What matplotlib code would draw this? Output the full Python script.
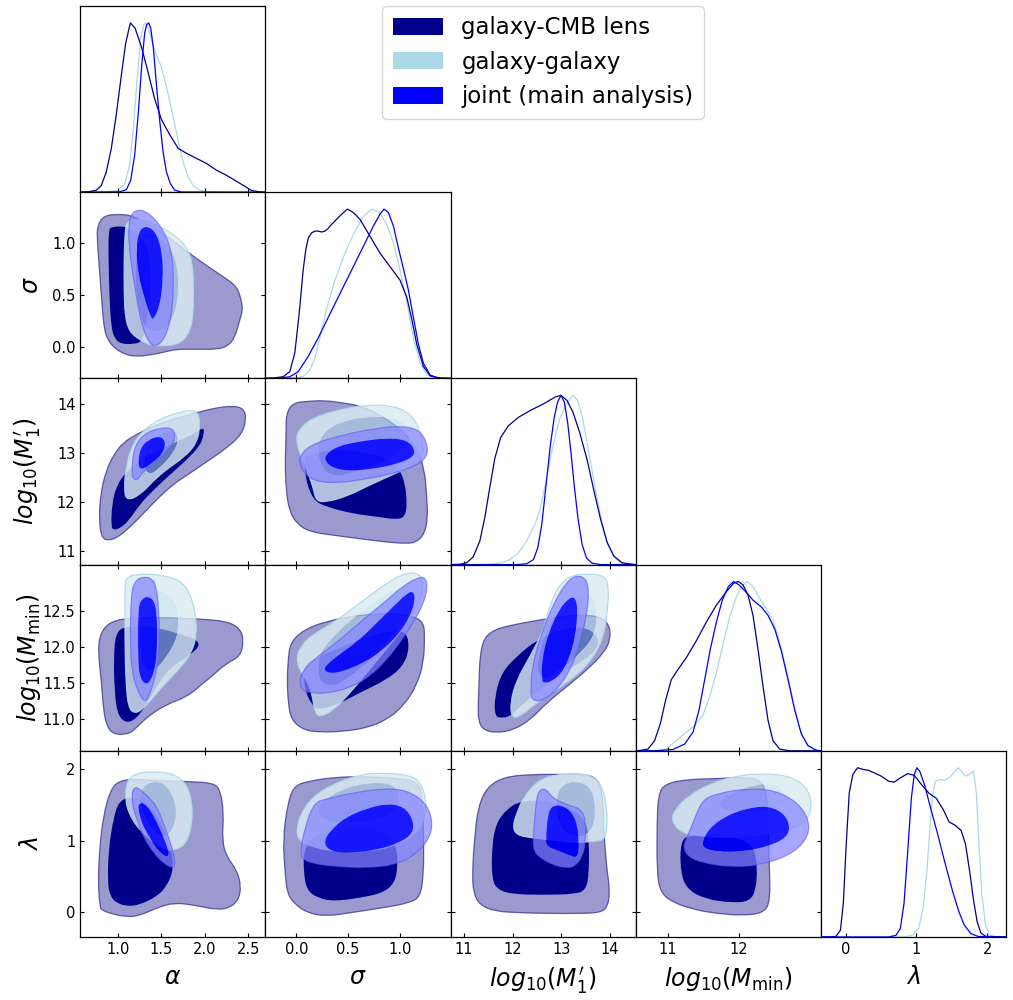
import numpy as np
import matplotlib
matplotlib.use("Agg")
import matplotlib.pyplot as plt
from matplotlib.path import Path
from matplotlib.patches import PathPatch, Patch

# ---------------- parameters / axes ----------------
param_keys = ["alpha", "sigma", "M1", "Mmin", "lam"]
axis_labels = [r"$\alpha$", r"$\sigma$", r"$log_{10}(M^{\prime}_1)$",
               r"$log_{10}(M_{\rm min})$", r"$\lambda$"]
ranges = [(0.565, 2.70), (-0.30, 1.49), (10.72, 14.53), (10.55, 13.15), (-0.35, 2.26)]
x_ticks = [[1.0, 1.5, 2.0, 2.5], [0.0, 0.5, 1.0], [11, 12, 13, 14], [11, 12], [0, 1, 2]]
x_tick_labels = [["1.0", "1.5", "2.0", "2.5"], ["0.0", "0.5", "1.0"],
                 ["11", "12", "13", "14"], ["11", "12"], ["0", "1", "2"]]
y_ticks = [[], [0.0, 0.5, 1.0], [11, 12, 13, 14], [11.0, 11.5, 12.0, 12.5], [0, 1, 2]]
y_tick_labels = [[], ["0.0", "0.5", "1.0"], ["11", "12", "13", "14"],
                 ["11.0", "11.5", "12.0", "12.5"], ["0", "1", "2"]]

series_names = ["galaxy-CMB lens", "galaxy-galaxy", "joint (main analysis)"]
series_keys = ["cmb", "gg", "joint"]
line_colors = ["#00008B", "#ADD8E6", "#0000FF"]

# ---------------- 1D marginals (normalised heights) ----------------
cmb_alpha_x = [0.565, 0.673, 0.750, 0.807, 0.865, 0.923, 0.980, 1.038, 1.088, 1.142, 1.196, 1.269, 1.346, 1.423, 1.500, 1.596, 1.692, 1.788, 1.904, 2.019, 2.135, 2.250, 2.365, 2.462, 2.539, 2.635, 2.70]
cmb_alpha_h = [0, 0.004, 0.012, 0.04, 0.12, 0.26, 0.46, 0.69, 0.88, 1.0, 0.97, 0.86, 0.71, 0.55, 0.43, 0.34, 0.26, 0.23, 0.20, 0.17, 0.13, 0.10, 0.065, 0.035, 0.01, 0.002, 0]
gg_alpha_x = [0.565, 0.865, 0.999, 1.077, 1.134, 1.181, 1.219, 1.257, 1.296, 1.319, 1.350, 1.396, 1.450, 1.500, 1.550, 1.596, 1.646, 1.696, 1.750, 1.808, 1.865, 1.942, 2.038, 2.23, 2.70]
gg_alpha_h = [0, 0.002, 0.01, 0.05, 0.16, 0.40, 0.66, 0.90, 0.99, 1.0, 0.97, 0.88, 0.80, 0.74, 0.64, 0.54, 0.42, 0.30, 0.18, 0.09, 0.04, 0.012, 0.002, 0, 0]
joint_alpha_x = [0.565, 1.019, 1.096, 1.146, 1.192, 1.234, 1.273, 1.307, 1.330, 1.353, 1.377, 1.408, 1.442, 1.481, 1.519, 1.558, 1.604, 1.654, 1.731, 2.70]
joint_alpha_h = [0, 0.002, 0.015, 0.07, 0.22, 0.47, 0.75, 0.94, 0.99, 1.0, 0.97, 0.85, 0.64, 0.42, 0.24, 0.12, 0.05, 0.012, 0.001, 0]

cmb_sigma_x = [-0.30, -0.226, -0.129, -0.064, -0.016, 0.026, 0.065, 0.090, 0.115, 0.146, 0.180, 0.211, 0.245, 0.275, 0.305, 0.340, 0.420, 0.492, 0.550, 0.614, 0.711, 0.808, 0.905, 1.002, 1.067, 1.115, 1.164, 1.228, 1.293, 1.39, 1.49]
cmb_sigma_h = [0, 0.002, 0.01, 0.04, 0.15, 0.38, 0.64, 0.76, 0.83, 0.86, 0.87, 0.87, 0.865, 0.87, 0.885, 0.91, 0.96, 1.0, 0.98, 0.94, 0.84, 0.74, 0.66, 0.58, 0.48, 0.35, 0.20, 0.07, 0.015, 0.002, 0]
gg_sigma_x = [-0.30, -0.032, 0.065, 0.130, 0.178, 0.227, 0.291, 0.372, 0.469, 0.566, 0.653, 0.727, 0.802, 0.873, 0.938, 1.002, 1.067, 1.131, 1.196, 1.261, 1.36, 1.49]
gg_sigma_h = [0, 0.002, 0.01, 0.05, 0.12, 0.24, 0.41, 0.58, 0.74, 0.87, 0.96, 1.0, 0.98, 0.91, 0.80, 0.64, 0.45, 0.24, 0.09, 0.02, 0.002, 0]
joint_sigma_x = [-0.30, -0.161, -0.064, 0.017, 0.114, 0.211, 0.307, 0.420, 0.534, 0.647, 0.744, 0.808, 0.847, 0.889, 0.938, 0.986, 1.034, 1.083, 1.131, 1.180, 1.228, 1.293, 1.37, 1.49]
joint_sigma_h = [0, 0.002, 0.01, 0.04, 0.13, 0.24, 0.36, 0.50, 0.64, 0.78, 0.90, 0.97, 1.0, 0.98, 0.90, 0.77, 0.65, 0.52, 0.36, 0.20, 0.09, 0.02, 0.002, 0]

cmb_m1_x = [10.72, 10.91, 11.048, 11.186, 11.324, 11.427, 11.531, 11.634, 11.752, 11.910, 12.117, 12.359, 12.635, 12.876, 12.993, 13.117, 13.241, 13.379, 13.531, 13.669, 13.807, 13.945, 14.083, 14.255, 14.53]
cmb_m1_h = [0, 0.002, 0.01, 0.045, 0.14, 0.28, 0.46, 0.63, 0.75, 0.82, 0.87, 0.91, 0.95, 0.99, 1.0, 0.97, 0.90, 0.78, 0.62, 0.44, 0.27, 0.13, 0.05, 0.01, 0]
gg_m1_x = [10.72, 11.39, 11.738, 11.945, 12.117, 12.290, 12.462, 12.566, 12.690, 12.828, 12.966, 13.104, 13.241, 13.338, 13.428, 13.531, 13.655, 13.793, 13.931, 14.069, 14.221, 14.43, 14.53]
gg_m1_h = [0, 0.001, 0.008, 0.03, 0.07, 0.14, 0.24, 0.33, 0.50, 0.70, 0.86, 0.95, 1.0, 0.97, 0.88, 0.72, 0.52, 0.31, 0.14, 0.05, 0.01, 0, 0]
joint_m1_x = [10.72, 12.083, 12.290, 12.428, 12.517, 12.600, 12.690, 12.773, 12.855, 12.924, 12.993, 13.062, 13.131, 13.200, 13.269, 13.345, 13.428, 13.517, 13.634, 13.81, 14.53]
joint_m1_h = [0, 0, 0.005, 0.03, 0.10, 0.24, 0.48, 0.70, 0.87, 0.96, 1.0, 0.96, 0.84, 0.66, 0.46, 0.27, 0.12, 0.04, 0.008, 0, 0]

cmb_mmin_x = [10.55, 10.606, 10.723, 10.817, 10.897, 10.972, 11.051, 11.145, 11.262, 11.403, 11.543, 11.684, 11.824, 11.927, 11.993, 12.059, 12.129, 12.199, 12.269, 12.340, 12.410, 12.480, 12.574, 12.71, 13.15]
cmb_mmin_h = [0, 0.002, 0.01, 0.06, 0.16, 0.30, 0.42, 0.48, 0.55, 0.65, 0.76, 0.86, 0.94, 0.99, 1.0, 0.98, 0.92, 0.80, 0.60, 0.38, 0.18, 0.06, 0.01, 0, 0]
gg_mmin_x = [10.55, 10.794, 10.981, 11.122, 11.262, 11.379, 11.496, 11.590, 11.684, 11.777, 11.871, 11.965, 12.059, 12.115, 12.199, 12.293, 12.387, 12.480, 12.574, 12.668, 12.761, 12.855, 12.949, 13.07, 13.15]
gg_mmin_h = [0, 0, 0.01, 0.06, 0.11, 0.15, 0.21, 0.32, 0.46, 0.63, 0.79, 0.91, 0.98, 1.0, 0.97, 0.90, 0.84, 0.77, 0.64, 0.48, 0.30, 0.13, 0.04, 0.005, 0]
joint_mmin_x = [10.55, 10.84, 11.075, 11.239, 11.356, 11.440, 11.520, 11.599, 11.684, 11.768, 11.852, 11.927, 12.002, 12.096, 12.199, 12.316, 12.410, 12.504, 12.597, 12.691, 12.785, 12.878, 12.972, 13.09, 13.15]
joint_mmin_h = [0, 0, 0.008, 0.04, 0.11, 0.24, 0.42, 0.60, 0.76, 0.89, 0.97, 1.0, 0.98, 0.94, 0.89, 0.85, 0.80, 0.72, 0.59, 0.42, 0.24, 0.10, 0.03, 0.003, 0]

cmb_lam_x = [-0.35, -0.139, -0.072, -0.031, 0.010, 0.052, 0.103, 0.170, 0.247, 0.325, 0.402, 0.505, 0.608, 0.686, 0.773, 0.876, 0.969, 1.072, 1.175, 1.278, 1.381, 1.459, 1.546, 1.629, 1.691, 1.753, 1.804, 1.856, 1.907, 1.974, 2.26]
cmb_lam_h = [0, 0.002, 0.04, 0.20, 0.55, 0.85, 0.96, 1.0, 0.99, 0.985, 0.97, 0.95, 0.92, 0.915, 0.94, 0.965, 0.955, 0.90, 0.85, 0.82, 0.75, 0.68, 0.66, 0.63, 0.55, 0.38, 0.22, 0.09, 0.025, 0.004, 0]
gg_lam_x = [-0.35, 0.814, 0.943, 1.031, 1.098, 1.149, 1.191, 1.227, 1.268, 1.330, 1.407, 1.485, 1.546, 1.588, 1.639, 1.691, 1.742, 1.804, 1.845, 1.881, 1.923, 1.974, 2.041, 2.13, 2.26]
gg_lam_h = [0, 0, 0.01, 0.05, 0.18, 0.40, 0.65, 0.84, 0.92, 0.93, 0.925, 0.95, 0.98, 1.0, 0.98, 0.95, 0.96, 0.98, 0.85, 0.55, 0.25, 0.07, 0.01, 0, 0]
joint_lam_x = [-0.35, 0.608, 0.711, 0.773, 0.825, 0.876, 0.928, 0.969, 1.005, 1.046, 1.113, 1.201, 1.304, 1.407, 1.510, 1.598, 1.675, 1.768, 1.87, 2.26]
joint_lam_h = [0, 0, 0.01, 0.05, 0.20, 0.50, 0.82, 0.96, 1.0, 0.98, 0.90, 0.76, 0.60, 0.43, 0.27, 0.15, 0.07, 0.02, 0.003, 0]

# ---------------- 2D credible regions (outer 95%, inner 68%) ----------------
# alpha - sigma
cmb_out_as = [(0.76, 1.16), (0.83, 1.265), (1.02, 1.28), (1.19, 1.26), (1.52, 1.10), (1.87, 0.87), (2.21, 0.68), (2.37, 0.585), (2.42, 0.46), (2.44, 0.36), (2.40, 0.25), (2.35, 0.10), (2.27, 0.01), (2.14, -0.02), (1.98, -0.02), (1.83, -0.02), (1.67, -0.02), (1.52, -0.05), (1.37, -0.075), (1.21, -0.09), (1.08, -0.07), (0.96, -0.01), (0.88, 0.07), (0.84, 0.18), (0.82, 0.36), (0.80, 0.58), (0.78, 0.81), (0.76, 1.03)]
cmb_in_as = [(0.89, 1.12), (0.92, 1.16), (1.13, 1.16), (1.30, 1.05), (1.38, 0.80), (1.38, 0.50), (1.33, 0.25), (1.28, 0.05), (1.17, 0.03), (1.04, 0.03), (0.96, 0.08), (0.92, 0.20), (0.90, 0.50), (0.89, 0.85)]
gg_out_as = [(1.10, 1.21), (1.25, 1.24), (1.48, 1.16), (1.65, 1.08), (1.79, 0.97), (1.86, 0.81), (1.87, 0.59), (1.87, 0.33), (1.83, 0.14), (1.71, 0.03), (1.52, 0.01), (1.37, 0.02), (1.25, 0.07), (1.13, 0.15), (1.08, 0.30), (1.07, 0.55), (1.07, 0.84), (1.08, 1.10)]
gg_in_as = [(1.25, 1.10), (1.45, 1.08), (1.62, 0.95), (1.70, 0.70), (1.68, 0.40), (1.58, 0.20), (1.42, 0.14), (1.30, 0.20), (1.22, 0.45), (1.20, 0.80)]
joint_out_as = [(1.22, 1.32), (1.31, 1.31), (1.42, 1.24), (1.54, 1.10), (1.62, 0.91), (1.64, 0.68), (1.63, 0.39), (1.58, 0.17), (1.50, 0.04), (1.42, 0.01), (1.36, 0.04), (1.29, 0.17), (1.23, 0.39), (1.18, 0.65), (1.13, 0.94), (1.12, 1.16), (1.15, 1.28)]
joint_in_as = [(1.28, 1.15), (1.35, 1.16), (1.44, 1.10), (1.51, 0.91), (1.52, 0.65), (1.48, 0.39), (1.41, 0.27), (1.38, 0.28), (1.31, 0.46), (1.23, 0.71), (1.21, 0.97), (1.24, 1.10)]

# alpha - log10 M1'
cmb_out_am = [(0.78, 11.65), (0.81, 11.27), (0.89, 11.21), (1.00, 11.28), (1.14, 11.49), (1.29, 11.76), (1.45, 12.06), (1.64, 12.37), (1.83, 12.59), (2.02, 12.82), (2.25, 13.10), (2.43, 13.39), (2.48, 13.71), (2.45, 13.91), (2.33, 13.97), (2.10, 13.92), (1.87, 13.81), (1.64, 13.70), (1.41, 13.56), (1.22, 13.39), (1.06, 13.22), (0.95, 12.97), (0.86, 12.63), (0.80, 12.18)]
cmb_in_am = [(0.92, 11.49), (0.93, 11.95), (0.98, 12.33), (1.10, 12.63), (1.25, 12.86), (1.45, 13.05), (1.68, 13.24), (1.87, 13.39), (1.99, 13.54), (1.99, 13.39), (1.95, 13.16), (1.79, 12.86), (1.60, 12.56), (1.41, 12.25), (1.25, 11.95), (1.12, 11.61), (1.02, 11.46), (0.95, 11.43)]
gg_out_am = [(1.07, 12.25), (1.10, 12.03), (1.25, 12.14), (1.41, 12.44), (1.56, 12.67), (1.75, 12.90), (1.91, 13.20), (1.95, 13.62), (1.91, 13.89), (1.72, 13.85), (1.48, 13.70), (1.29, 13.47), (1.16, 13.16), (1.09, 12.71)]
gg_in_am = [(1.29, 12.71), (1.33, 13.16), (1.48, 13.39), (1.64, 13.47), (1.70, 13.32), (1.64, 13.01), (1.48, 12.71), (1.37, 12.56)]
joint_out_am = [(1.16, 12.63), (1.18, 13.09), (1.29, 13.39), (1.48, 13.52), (1.64, 13.51), (1.66, 13.32), (1.60, 13.09), (1.45, 12.86), (1.29, 12.63), (1.22, 12.44), (1.17, 12.48)]
joint_in_am = [(1.23, 12.71), (1.25, 13.09), (1.35, 13.28), (1.48, 13.35), (1.55, 13.24), (1.52, 13.01), (1.41, 12.82), (1.29, 12.67)]

# alpha - log10 Mmin
cmb_out_an = [(0.77, 11.92), (0.79, 12.18), (0.91, 12.36), (1.18, 12.41), (1.56, 12.41), (1.95, 12.39), (2.25, 12.36), (2.41, 12.26), (2.45, 12.08), (2.41, 11.87), (2.25, 11.77), (2.10, 11.61), (1.95, 11.46), (1.79, 11.30), (1.56, 11.20), (1.33, 11.02), (1.18, 10.83), (1.10, 10.78), (0.95, 10.78), (0.87, 10.89), (0.83, 11.14), (0.81, 11.51)]
cmb_in_an = [(0.95, 11.82), (0.97, 12.18), (1.06, 12.28), (1.25, 12.29), (1.48, 12.26), (1.72, 12.18), (1.91, 12.10), (1.94, 12.01), (1.83, 11.89), (1.60, 11.71), (1.45, 11.46), (1.33, 11.20), (1.20, 10.98), (1.08, 10.94), (0.99, 11.07), (0.96, 11.40)]
gg_out_an = [(1.08, 12.85), (1.10, 12.98), (1.25, 13.02), (1.48, 13.01), (1.72, 12.93), (1.83, 12.75), (1.89, 12.49), (1.91, 12.18), (1.85, 11.92), (1.72, 11.71), (1.56, 11.51), (1.41, 11.30), (1.29, 11.14), (1.20, 11.07), (1.12, 11.14), (1.09, 11.51), (1.08, 12.08), (1.08, 12.49)]
gg_in_an = [(1.33, 12.75), (1.48, 12.80), (1.64, 12.70), (1.70, 12.44), (1.68, 12.13), (1.56, 11.87), (1.41, 11.66), (1.29, 11.71), (1.25, 12.08), (1.27, 12.49)]
joint_out_an = [(1.14, 12.08), (1.15, 12.75), (1.20, 12.93), (1.29, 12.98), (1.39, 12.96), (1.44, 12.85), (1.47, 12.54), (1.48, 12.08), (1.45, 11.66), (1.37, 11.35), (1.33, 11.25), (1.29, 11.25), (1.22, 11.40), (1.16, 11.66)]
joint_in_an = [(1.23, 11.82), (1.23, 12.54), (1.27, 12.67), (1.35, 12.71), (1.42, 12.64), (1.45, 12.44), (1.45, 12.02), (1.43, 11.71), (1.37, 11.51), (1.31, 11.48), (1.25, 11.58)]

# alpha - lambda
cmb_out_al = [(0.79, 0.08), (0.77, 0.45), (0.79, 0.92), (0.83, 1.34), (0.91, 1.71), (1.02, 1.85), (1.25, 1.86), (1.48, 1.84), (1.79, 1.83), (2.10, 1.81), (2.18, 1.71), (2.22, 1.38), (2.20, 1.01), (2.25, 0.78), (2.37, 0.59), (2.42, 0.36), (2.39, 0.17), (2.29, 0.06), (2.14, 0.03), (1.87, 0.10), (1.64, 0.13), (1.45, 0.06), (1.25, -0.05), (1.10, -0.07), (0.91, -0.02), (0.81, 0.03)]
cmb_in_al = [(0.88, 0.41), (0.89, 0.87), (0.95, 1.34), (1.02, 1.57), (1.18, 1.62), (1.37, 1.48), (1.52, 1.20), (1.62, 0.87), (1.64, 0.59), (1.56, 0.36), (1.45, 0.22), (1.25, 0.10), (1.10, 0.08), (0.98, 0.13), (0.91, 0.22)]
gg_out_al = [(1.08, 1.57), (1.10, 1.85), (1.22, 1.95), (1.41, 1.97), (1.64, 1.94), (1.79, 1.80), (1.86, 1.52), (1.85, 1.20), (1.79, 0.97), (1.68, 0.87), (1.56, 0.87), (1.41, 0.97), (1.25, 1.15), (1.14, 1.34)]
gg_in_al = [(1.25, 1.66), (1.33, 1.80), (1.48, 1.83), (1.60, 1.71), (1.67, 1.48), (1.66, 1.25), (1.58, 1.08), (1.48, 1.06), (1.37, 1.20), (1.27, 1.43)]
joint_out_al = [(1.16, 1.66), (1.18, 1.73), (1.22, 1.75), (1.33, 1.64), (1.45, 1.48), (1.52, 1.25), (1.58, 1.06), (1.64, 0.83), (1.66, 0.64), (1.62, 0.62), (1.52, 0.69), (1.41, 0.83), (1.29, 1.06), (1.22, 1.29), (1.17, 1.48)]
joint_in_al = [(1.23, 1.48), (1.25, 1.52), (1.29, 1.53), (1.37, 1.43), (1.45, 1.25), (1.52, 1.06), (1.58, 0.87), (1.58, 0.78), (1.52, 0.80), (1.43, 0.92), (1.33, 1.11), (1.26, 1.29)]

# sigma - log10 M1'
cmb_out_sm = [(-0.11, 12.79), (-0.10, 13.34), (-0.10, 13.82), (-0.03, 14.03), (0.10, 14.06), (0.26, 14.08), (0.45, 14.03), (0.61, 13.97), (0.78, 13.82), (1.00, 13.51), (1.16, 13.14), (1.24, 12.66), (1.26, 12.11), (1.27, 11.70), (1.24, 11.35), (1.16, 11.18), (1.07, 11.15), (0.87, 11.18), (0.61, 11.25), (0.36, 11.32), (0.13, 11.39), (0.00, 11.56), (-0.07, 11.83), (-0.10, 12.24)]
cmb_in_sm = [(0.08, 12.93), (0.08, 12.52), (0.16, 12.04), (0.29, 11.90), (0.55, 11.76), (0.78, 11.70), (0.97, 11.64), (1.05, 11.70), (1.07, 11.97), (1.05, 12.38), (1.00, 12.66), (0.91, 12.86), (0.71, 13.00), (0.45, 13.07), (0.23, 13.03), (0.10, 12.96)]
gg_out_sm = [(0.01, 13.44), (0.13, 13.70), (0.39, 13.88), (0.68, 13.99), (0.94, 13.97), (1.10, 13.81), (1.19, 13.51), (1.23, 13.14), (1.21, 12.86), (1.10, 12.72), (0.94, 12.57), (0.71, 12.35), (0.49, 12.12), (0.29, 12.00), (0.19, 12.02), (0.16, 12.31), (0.10, 12.66), (0.03, 13.00), (0.00, 13.24)]
gg_in_sm = [(0.23, 13.34), (0.39, 13.62), (0.68, 13.75), (0.94, 13.72), (1.07, 13.58), (1.10, 13.34), (1.03, 13.07), (0.87, 12.86), (0.61, 12.66), (0.39, 12.52), (0.26, 12.66), (0.21, 13.00)]
joint_out_sm = [(0.03, 12.93), (0.13, 13.17), (0.45, 13.38), (0.78, 13.51), (1.00, 13.56), (1.20, 13.48), (1.28, 13.10), (1.24, 12.86), (1.10, 12.69), (0.87, 12.55), (0.61, 12.45), (0.39, 12.39), (0.19, 12.42), (0.07, 12.59), (0.03, 12.79)]
joint_in_sm = [(0.28, 12.96), (0.39, 13.14), (0.61, 13.24), (0.87, 13.31), (1.07, 13.27), (1.15, 13.07), (1.12, 12.90), (0.94, 12.76), (0.71, 12.67), (0.52, 12.64), (0.36, 12.69), (0.28, 12.83)]

# sigma - log10 Mmin
cmb_out_sn = [(-0.06, 12.06), (0.07, 12.24), (0.29, 12.36), (0.61, 12.45), (0.94, 12.47), (1.13, 12.43), (1.23, 12.34), (1.24, 12.15), (1.23, 11.78), (1.16, 11.45), (1.03, 11.17), (0.87, 10.98), (0.68, 10.87), (0.45, 10.82), (0.23, 10.81), (0.07, 10.84), (-0.05, 10.98), (-0.08, 11.22), (-0.09, 11.54), (-0.08, 11.82)]
cmb_in_sn = [(0.07, 11.68), (0.08, 11.40), (0.15, 11.19), (0.21, 11.12), (0.39, 11.19), (0.61, 11.36), (0.87, 11.54), (1.03, 11.73), (1.09, 11.96), (1.07, 12.20), (0.94, 12.24), (0.71, 12.15), (0.45, 12.01), (0.23, 11.87), (0.10, 11.78)]
gg_out_sn = [(0.00, 11.78), (0.02, 11.96), (0.13, 12.15), (0.36, 12.34), (0.61, 12.61), (0.87, 12.89), (1.03, 13.02), (1.16, 13.04), (1.23, 12.94), (1.21, 12.71), (1.13, 12.47), (1.00, 12.20), (0.84, 11.92), (0.68, 11.64), (0.52, 11.36), (0.36, 11.12), (0.23, 11.02), (0.18, 11.08), (0.16, 11.26), (0.13, 11.45), (0.05, 11.64)]
gg_in_sn = [(0.23, 11.92), (0.39, 12.20), (0.61, 12.47), (0.87, 12.75), (1.07, 12.89), (1.16, 12.85), (1.15, 12.61), (1.03, 12.34), (0.87, 12.06), (0.71, 11.82), (0.52, 11.59), (0.36, 11.45), (0.24, 11.50), (0.21, 11.68)]
joint_out_sn = [(0.03, 11.50), (0.05, 11.64), (0.16, 11.82), (0.39, 12.06), (0.61, 12.34), (0.84, 12.61), (1.03, 12.85), (1.16, 12.96), (1.24, 12.98), (1.27, 12.85), (1.23, 12.61), (1.13, 12.34), (1.00, 12.06), (0.87, 11.82), (0.71, 11.59), (0.52, 11.43), (0.29, 11.35), (0.13, 11.36), (0.05, 11.40)]
joint_in_sn = [(0.28, 11.73), (0.39, 11.87), (0.58, 12.06), (0.78, 12.34), (0.94, 12.57), (1.07, 12.75), (1.13, 12.78), (1.15, 12.66), (1.10, 12.43), (1.00, 12.20), (0.84, 11.96), (0.65, 11.78), (0.45, 11.66), (0.32, 11.63), (0.27, 11.68)]

# sigma - lambda
cmb_out_sl = [(-0.11, 0.55), (-0.13, 1.01), (-0.09, 1.48), (-0.03, 1.76), (0.10, 1.83), (0.36, 1.89), (0.68, 1.90), (1.00, 1.87), (1.16, 1.83), (1.22, 1.66), (1.23, 1.01), (1.23, 0.55), (1.20, 0.22), (1.10, 0.13), (0.84, 0.06), (0.52, -0.01), (0.29, -0.06), (0.10, -0.01), (-0.03, 0.13), (-0.09, 0.27)]
cmb_in_sl = [(0.07, 0.87), (0.07, 0.55), (0.10, 0.31), (0.20, 0.20), (0.36, 0.15), (0.62, 0.20), (0.84, 0.27), (0.95, 0.41), (0.98, 0.64), (0.97, 0.92), (0.87, 1.11), (0.68, 1.20), (0.36, 1.15), (0.16, 1.06)]
gg_out_sl = [(0.00, 1.15), (0.04, 1.38), (0.16, 1.62), (0.36, 1.80), (0.62, 1.93), (0.84, 1.95), (1.10, 1.92), (1.21, 1.80), (1.26, 1.52), (1.23, 1.25), (1.13, 1.06), (0.94, 0.92), (0.68, 0.85), (0.36, 0.85), (0.13, 0.92), (0.02, 1.01)]
gg_in_sl = [(0.23, 1.52), (0.42, 1.71), (0.68, 1.81), (0.91, 1.80), (1.00, 1.66), (0.97, 1.43), (0.78, 1.29), (0.52, 1.25), (0.29, 1.27), (0.21, 1.38)]
joint_out_sl = [(0.04, 0.87), (0.07, 1.11), (0.16, 1.52), (0.29, 1.59), (0.62, 1.69), (0.84, 1.73), (1.07, 1.71), (1.26, 1.52), (1.32, 1.25), (1.28, 1.01), (1.13, 0.78), (0.94, 0.66), (0.68, 0.62), (0.36, 0.64), (0.13, 0.69), (0.05, 0.76)]
joint_in_sl = [(0.26, 0.97), (0.33, 1.15), (0.49, 1.34), (0.68, 1.45), (0.87, 1.52), (1.04, 1.48), (1.13, 1.29), (1.13, 1.11), (1.00, 0.97), (0.78, 0.87), (0.52, 0.83), (0.33, 0.85)]

# log10 M1' - log10 Mmin
cmb_out_mn = [(11.32, 11.82), (11.39, 12.10), (11.60, 12.24), (12.01, 12.31), (12.57, 12.38), (13.26, 12.45), (13.81, 12.43), (14.00, 12.29), (14.01, 12.10), (13.88, 11.92), (13.53, 11.68), (13.12, 11.45), (12.70, 11.22), (12.36, 10.98), (12.01, 10.84), (11.67, 10.80), (11.39, 10.84), (11.29, 10.98), (11.29, 11.22), (11.31, 11.54)]
cmb_in_mn = [(11.63, 11.03), (11.63, 11.31), (11.77, 11.64), (12.08, 11.87), (12.50, 12.10), (12.98, 12.24), (13.46, 12.29), (13.77, 12.15), (13.74, 11.96), (13.39, 11.78), (12.91, 11.59), (12.50, 11.36), (12.15, 11.17), (11.95, 11.03), (11.77, 11.01)]
gg_out_mn = [(12.77, 12.61), (12.98, 12.89), (13.26, 13.01), (13.60, 13.02), (13.91, 12.99), (13.98, 12.80), (13.95, 12.52), (13.88, 12.15), (13.60, 11.78), (13.12, 11.50), (12.57, 11.26), (12.15, 11.03), (11.98, 11.01), (11.95, 11.22), (12.08, 11.54), (12.36, 11.87), (12.64, 12.24)]
gg_in_mn = [(12.77, 12.34), (13.05, 12.61), (13.39, 12.75), (13.67, 12.71), (13.74, 12.47), (13.67, 12.15), (13.39, 11.92), (12.98, 11.68), (12.64, 11.54), (12.50, 11.68), (12.57, 11.96)]
joint_out_mn = [(12.39, 11.68), (12.57, 12.15), (12.84, 12.61), (13.12, 12.92), (13.32, 13.00), (13.50, 12.96), (13.57, 12.80), (13.53, 12.47), (13.39, 12.06), (13.19, 11.68), (12.91, 11.40), (12.64, 11.26), (12.46, 11.24), (12.37, 11.31), (12.38, 11.45)]
joint_in_mn = [(12.60, 11.52), (12.60, 11.82), (12.74, 12.20), (12.95, 12.52), (13.15, 12.68), (13.29, 12.70), (13.34, 12.52), (13.29, 12.15), (13.15, 11.82), (12.98, 11.61), (12.77, 11.51), (12.65, 11.50)]

# log10 M1' - lambda
cmb_out_ml = [(11.17, 0.55), (11.21, 1.01), (11.29, 1.48), (11.48, 1.76), (11.85, 1.90), (12.46, 1.93), (13.06, 1.93), (13.51, 1.93), (13.74, 1.87), (13.85, 1.66), (13.87, 1.20), (13.93, 0.64), (14.00, 0.31), (13.96, 0.08), (13.81, -0.01), (13.36, -0.02), (12.76, -0.02), (12.15, -0.01), (11.63, 0.01), (11.32, 0.10), (11.19, 0.27)]
cmb_in_ml = [(11.57, 0.45), (11.57, 0.92), (11.66, 1.25), (11.89, 1.45), (12.15, 1.55), (12.61, 1.57), (13.13, 1.48), (13.51, 1.29), (13.57, 1.01), (13.57, 0.55), (13.51, 0.31), (13.28, 0.25), (12.61, 0.24), (12.00, 0.25), (11.70, 0.31)]
gg_out_ml = [(12.00, 1.20), (12.08, 1.38), (12.23, 1.62), (12.53, 1.85), (12.91, 1.93), (13.36, 1.95), (13.66, 1.90), (13.85, 1.76), (13.93, 1.48), (13.95, 1.20), (13.89, 1.01), (13.66, 0.99), (13.28, 0.97), (12.83, 1.01), (12.38, 1.04), (12.08, 1.08)]
gg_in_ml = [(12.91, 1.66), (13.06, 1.80), (13.36, 1.83), (13.62, 1.73), (13.70, 1.48), (13.66, 1.20), (13.51, 1.08), (13.28, 1.06), (13.06, 1.13), (12.91, 1.34)]
joint_out_ml = [(12.42, 1.01), (12.47, 1.48), (12.53, 1.71), (12.68, 1.73), (12.83, 1.59), (13.13, 1.50), (13.40, 1.45), (13.50, 1.29), (13.50, 1.01), (13.44, 0.78), (13.28, 0.64), (13.10, 0.62), (12.83, 0.66), (12.57, 0.76), (12.44, 0.85)]
joint_in_ml = [(12.68, 1.01), (12.72, 1.34), (12.79, 1.48), (12.98, 1.50), (13.21, 1.41), (13.34, 1.20), (13.36, 0.92), (13.32, 0.76), (13.17, 0.80), (12.91, 0.87), (12.72, 0.92)]

# log10 Mmin - lambda
cmb_out_nl = [(10.85, 0.55), (10.85, 1.25), (10.87, 1.66), (10.97, 1.80), (11.28, 1.86), (11.69, 1.87), (12.10, 1.89), (12.31, 1.85), (12.39, 1.66), (12.41, 1.25), (12.43, 0.64), (12.44, 0.17), (12.36, -0.01), (12.05, -0.05), (11.69, -0.02), (11.39, 0.03), (11.08, 0.13), (10.90, 0.27)]
cmb_in_nl = [(11.18, 1.01), (11.18, 0.55), (11.28, 0.31), (11.54, 0.18), (11.90, 0.13), (12.15, 0.15), (12.24, 0.31), (12.26, 0.64), (12.21, 0.92), (12.00, 1.04), (11.59, 1.08), (11.33, 1.08)]
gg_out_nl = [(11.05, 1.29), (11.10, 1.43), (11.28, 1.62), (11.59, 1.80), (12.00, 1.92), (12.41, 1.94), (12.72, 1.90), (12.95, 1.76), (13.03, 1.52), (12.97, 1.29), (12.72, 1.15), (12.31, 1.08), (11.90, 1.04), (11.49, 1.06), (11.18, 1.11)]
gg_in_nl = [(11.69, 1.52), (11.90, 1.66), (12.21, 1.78), (12.51, 1.80), (12.66, 1.66), (12.64, 1.50), (12.41, 1.43), (12.05, 1.41), (11.80, 1.43)]
joint_out_nl = [(11.22, 0.92), (11.28, 1.06), (11.39, 1.34), (11.49, 1.57), (11.69, 1.66), (12.10, 1.73), (12.51, 1.71), (12.85, 1.52), (13.00, 1.25), (12.95, 1.01), (12.72, 0.80), (12.31, 0.66), (11.90, 0.63), (11.49, 0.69), (11.28, 0.78)]
joint_in_nl = [(11.49, 0.97), (11.56, 1.15), (11.80, 1.34), (12.10, 1.45), (12.41, 1.49), (12.64, 1.38), (12.72, 1.20), (12.67, 1.04), (12.41, 0.92), (12.05, 0.85), (11.69, 0.85), (11.51, 0.90)]

# ---------------- lookup tables built from the named lists ----------------
marg = {
    ("cmb", 0): (cmb_alpha_x, cmb_alpha_h), ("gg", 0): (gg_alpha_x, gg_alpha_h), ("joint", 0): (joint_alpha_x, joint_alpha_h),
    ("cmb", 1): (cmb_sigma_x, cmb_sigma_h), ("gg", 1): (gg_sigma_x, gg_sigma_h), ("joint", 1): (joint_sigma_x, joint_sigma_h),
    ("cmb", 2): (cmb_m1_x, cmb_m1_h), ("gg", 2): (gg_m1_x, gg_m1_h), ("joint", 2): (joint_m1_x, joint_m1_h),
    ("cmb", 3): (cmb_mmin_x, cmb_mmin_h), ("gg", 3): (gg_mmin_x, gg_mmin_h), ("joint", 3): (joint_mmin_x, joint_mmin_h),
    ("cmb", 4): (cmb_lam_x, cmb_lam_h), ("gg", 4): (gg_lam_x, gg_lam_h), ("joint", 4): (joint_lam_x, joint_lam_h),
}
regions = {
    (0, 1): {"cmb": (cmb_out_as, cmb_in_as), "gg": (gg_out_as, gg_in_as), "joint": (joint_out_as, joint_in_as)},
    (0, 2): {"cmb": (cmb_out_am, cmb_in_am), "gg": (gg_out_am, gg_in_am), "joint": (joint_out_am, joint_in_am)},
    (0, 3): {"cmb": (cmb_out_an, cmb_in_an), "gg": (gg_out_an, gg_in_an), "joint": (joint_out_an, joint_in_an)},
    (0, 4): {"cmb": (cmb_out_al, cmb_in_al), "gg": (gg_out_al, gg_in_al), "joint": (joint_out_al, joint_in_al)},
    (1, 2): {"cmb": (cmb_out_sm, cmb_in_sm), "gg": (gg_out_sm, gg_in_sm), "joint": (joint_out_sm, joint_in_sm)},
    (1, 3): {"cmb": (cmb_out_sn, cmb_in_sn), "gg": (gg_out_sn, gg_in_sn), "joint": (joint_out_sn, joint_in_sn)},
    (1, 4): {"cmb": (cmb_out_sl, cmb_in_sl), "gg": (gg_out_sl, gg_in_sl), "joint": (joint_out_sl, joint_in_sl)},
    (2, 3): {"cmb": (cmb_out_mn, cmb_in_mn), "gg": (gg_out_mn, gg_in_mn), "joint": (joint_out_mn, joint_in_mn)},
    (2, 4): {"cmb": (cmb_out_ml, cmb_in_ml), "gg": (gg_out_ml, gg_in_ml), "joint": (joint_out_ml, joint_in_ml)},
    (3, 4): {"cmb": (cmb_out_nl, cmb_in_nl), "gg": (gg_out_nl, gg_in_nl), "joint": (joint_out_nl, joint_in_nl)},
}

# ---------------- styling ----------------
style = {
    "cmb":   dict(out_face=(0.604, 0.604, 0.812), out_alpha=1.0, in_face="#00008B", in_alpha=1.0,
                  edge=(0.15, 0.15, 0.55), edge_alpha=0.7),
    "gg":    dict(out_face=(0.86, 0.925, 0.95), out_alpha=0.82, in_face="#ADD8E6", in_alpha=0.55,
                  edge=(0.68, 0.85, 0.90), edge_alpha=0.9),
    "joint": dict(out_face=(0.52, 0.52, 1.0), out_alpha=0.72, in_face="#0000FF", in_alpha=0.88,
                  edge=(0.35, 0.35, 0.95), edge_alpha=0.6),
}


def signed_area(p):
    x, y = p[:, 0], p[:, 1]
    return 0.5 * np.sum(x * np.roll(y, -1) - np.roll(x, -1) * y)


def smooth_closed(pts, ccw=True):
    p = np.asarray(pts, float)
    if (signed_area(p) > 0) != ccw:
        p = p[::-1]
    mids = 0.5 * (p + np.roll(p, -1, axis=0))
    verts = [mids[-1]]
    codes = [Path.MOVETO]
    for k in range(len(p)):
        verts += [p[k], mids[k]]
        codes += [Path.CURVE3, Path.CURVE3]
    verts.append(mids[-1])
    codes.append(Path.CLOSEPOLY)
    return verts, codes


def draw_series(ax, key, outer, inner):
    st = style[key]
    vo, co = smooth_closed(outer, True)
    vi, ci = smooth_closed(inner, True)
    if key == "cmb":
        ax.add_patch(PathPatch(Path(vo, co), facecolor=st["out_face"], alpha=st["out_alpha"],
                               edgecolor="none", zorder=1))
        ax.add_patch(PathPatch(Path(vi, ci), facecolor=st["in_face"], alpha=st["in_alpha"],
                               edgecolor="none", zorder=1.1))
        z = 1.2
    else:
        z = 2 if key == "gg" else 3
        vh, ch = smooth_closed(inner, False)
        ax.add_patch(PathPatch(Path(vo + vh, co + ch), facecolor=st["out_face"], alpha=st["out_alpha"],
                               edgecolor="none", zorder=z))
        ax.add_patch(PathPatch(Path(vi, ci), facecolor=st["in_face"], alpha=st["in_alpha"],
                               edgecolor="none", zorder=z + 0.1))
        z = z + 0.2
    ax.add_patch(PathPatch(Path(vo, co), facecolor="none", edgecolor=st["edge"], alpha=st["edge_alpha"],
                           lw=0.9, zorder=z))


# ---------------- figure ----------------
plt.rcParams["font.family"] = ["DejaVu Sans"]
plt.rcParams["mathtext.fontset"] = "dejavusans"
fig, axes = plt.subplots(5, 5, figsize=(10.13, 10.0), dpi=100)
fig.subplots_adjust(left=0.0793, right=0.9929, bottom=0.063, top=0.994, wspace=0, hspace=0)

tick_fs = 10.5
label_fs = 17

for i in range(5):
    for j in range(5):
        ax = axes[i, j]
        if j > i:
            ax.axis("off")
            continue
        ax.set_xlim(*ranges[j])
        if i == j:
            for key, col in zip(series_keys, line_colors):
                xs, hs = marg[(key, i)]
                ax.plot(xs, hs, color=col, lw=0.9, zorder=2 if key != "gg" else 1.5)
            ax.set_ylim(0, 1.1)
            ax.set_yticks([])
            ax.set_xticks(x_ticks[j])
            ax.tick_params(axis="x", direction="in", top=False, bottom=True, length=3, width=0.8,
                           labelsize=tick_fs)
        else:
            for key in series_keys:
                outer, inner = regions[(j, i)][key]
                draw_series(ax, key, outer, inner)
            ax.set_ylim(*ranges[i])
            ax.set_xticks(x_ticks[j])
            ax.set_yticks(y_ticks[i])
            ax.tick_params(axis="both", direction="in", top=True, right=True, bottom=True, left=True,
                           length=3, width=0.8, labelsize=tick_fs)
        if i == 4:
            ax.set_xticklabels(x_tick_labels[j])
            ax.set_xlabel(axis_labels[j], fontsize=label_fs)
            ax.xaxis.set_label_coords(0.5, -0.15)
        else:
            ax.set_xticklabels([])
        if j == 0 and i > 0:
            ax.set_yticklabels(y_tick_labels[i])
            ax.set_ylabel(axis_labels[i], fontsize=label_fs)
            ax.yaxis.set_label_coords(-0.2, 0.5)
        elif i != j:
            ax.set_yticklabels([])
        for sp in ax.spines.values():
            sp.set_linewidth(0.9)

handles = [Patch(facecolor=c, edgecolor="none") for c in line_colors]
fig.legend(handles, series_names, loc="upper center", bbox_to_anchor=(0.536, 0.994),
           borderaxespad=0.0, fontsize=16.5, handlelength=2.2, handleheight=0.75, labelspacing=0.5,
           handletextpad=0.8, borderpad=0.45, framealpha=0.8)

fig.savefig("out.png", dpi=100)
